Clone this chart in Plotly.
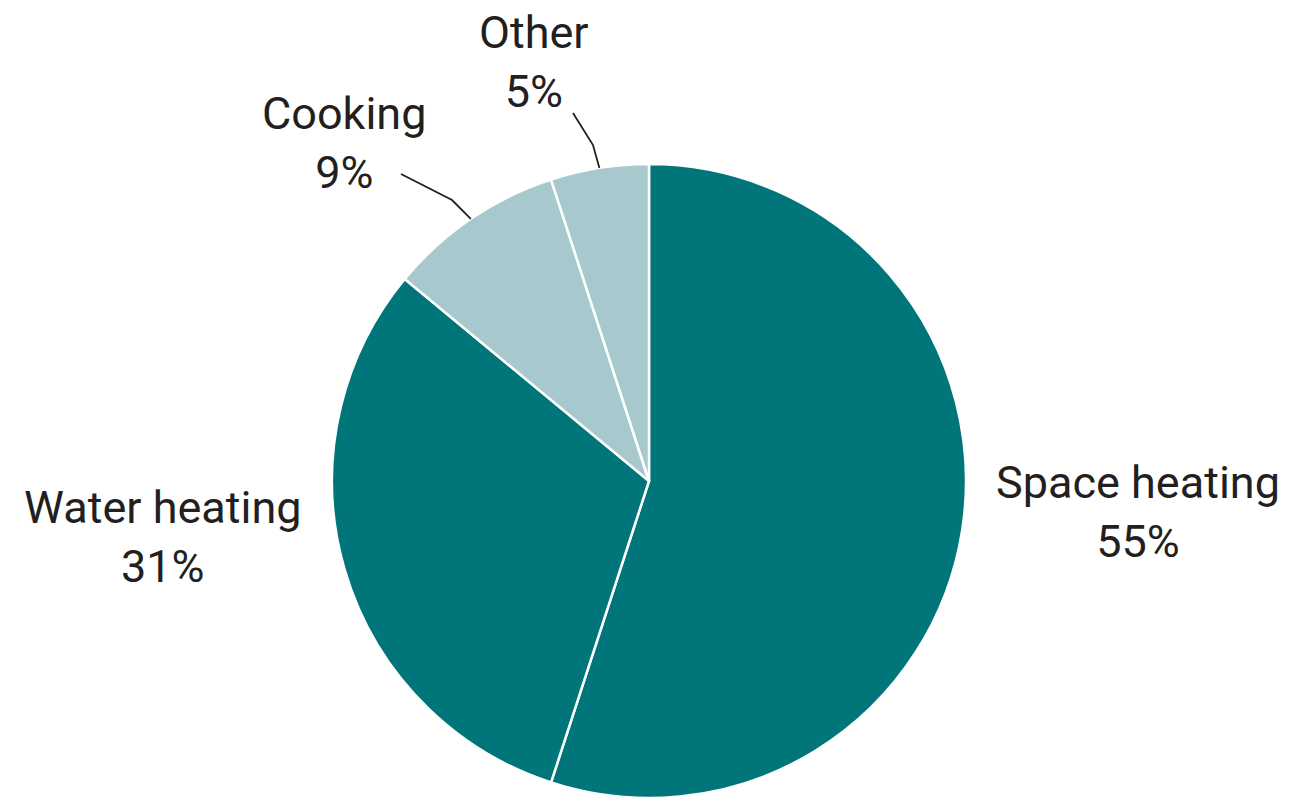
import math
import plotly.graph_objects as go

labels = ["Space heating", "Water heating", "Cooking", "Other"]
values = [55, 31, 9, 5]
colors = ["#00767A", "#00767A", "#A7C8CC", "#A7C8CC"]

W, H = 1290, 798
CX, CY, R = 649, 481, 317  # pie centre and radius in pixels

fig = go.Figure(go.Pie(
    labels=labels, values=values, sort=False, direction="clockwise", rotation=0,
    marker=dict(colors=colors, line=dict(color="white", width=2.5)),
    textinfo="none", hoverinfo="label+percent", showlegend=False,
    domain=dict(x=[(CX - R) / W, (CX + R) / W], y=[(H - CY - R) / H, (H - CY + R) / H]),
))

FONT = dict(family="Roboto, Liberation Sans, sans-serif", size=45, color="#231F20")

# label positions (pixels)
label_pos = {
    "Space heating": (1138, 512),
    "Water heating": (163, 537),
    "Cooking": (345, 143),
    "Other": (534, 62),
}
# leader line knee/end points (pixels) for small slices
leaders = {
    "Cooking": [(452, 200), (401, 174)],
    "Other": [(593, 145), (573, 113)],
}

def px(x, y):
    return x / W, 1 - y / H

total = sum(values)
cum = 0
annotations = []
shapes = []
for lab, v in zip(labels, values):
    mid = (cum + v / 2) / total * 2 * math.pi
    cum += v
    lx, ly = label_pos[lab]
    ax, ay = px(lx, ly)
    annotations.append(dict(
        x=ax, y=ay, xref="paper", yref="paper", xanchor="center", yanchor="middle",
        text=f"{lab}<br>{round(v / total * 100)}%", showarrow=False, font=FONT, align="center",
    ))
    if lab in leaders:
        sx = CX + R * math.sin(mid)
        sy = CY - R * math.cos(mid)
        pts = [(sx, sy)] + leaders[lab]
        path = "M " + " L ".join(f"{px(x, y)[0]},{px(x, y)[1]}" for x, y in pts)
        shapes.append(dict(type="path", path=path, xref="paper", yref="paper",
                           line=dict(color="#231F20", width=1.8)))

fig.update_layout(
    width=W, height=H, margin=dict(l=0, r=0, t=0, b=0),
    paper_bgcolor="white", plot_bgcolor="white",
    annotations=annotations, shapes=shapes,
)
fig.write_html("out.html", config={"displayModeBar": False},
               post_script="document.body.style.margin='0';")
